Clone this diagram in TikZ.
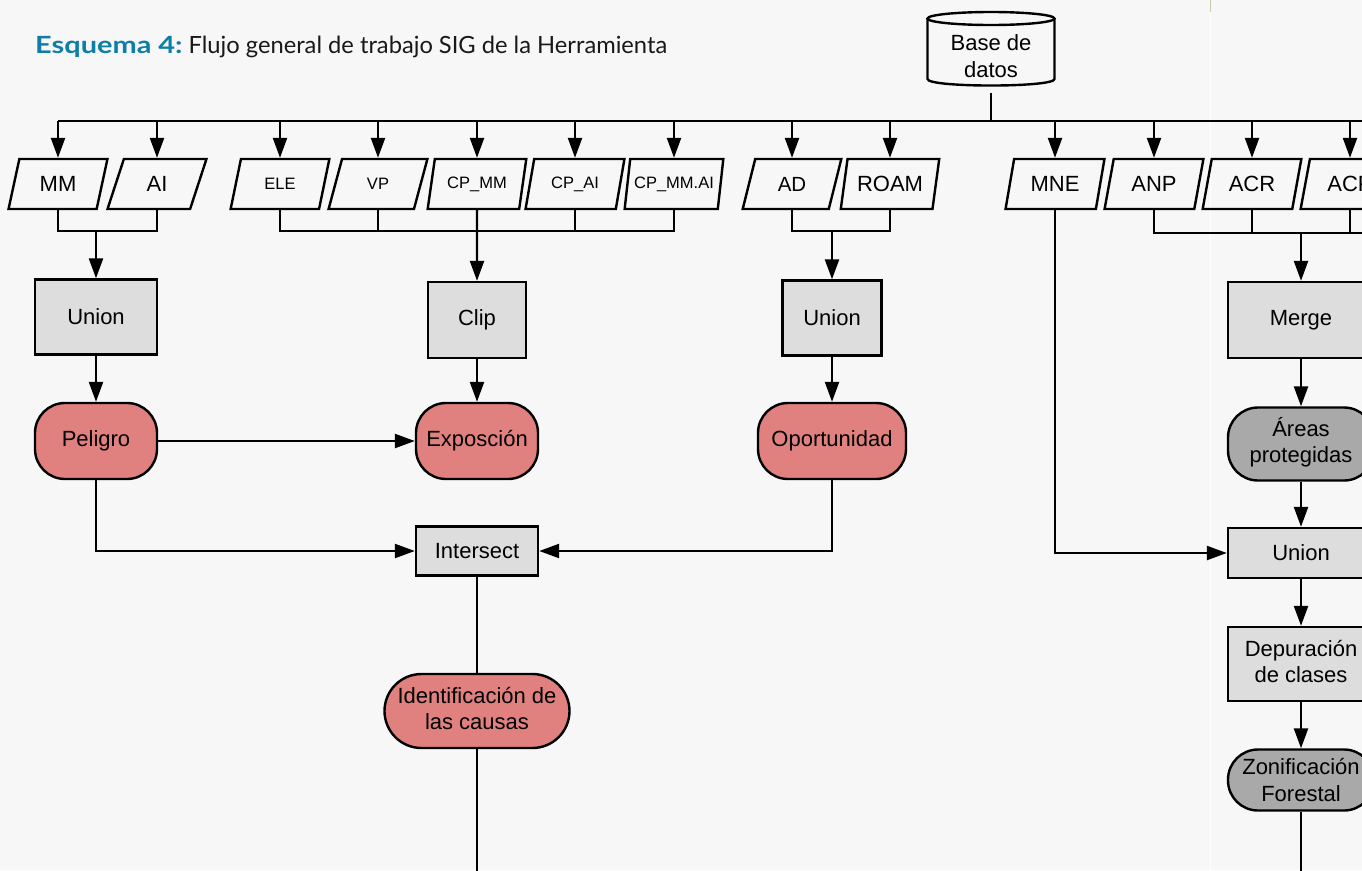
\documentclass[tikz,border=0pt]{standalone}
\usepackage{fontspec}
\setmainfont{Liberation Sans}
\newfontfamily\titlefont{Lato}
\usetikzlibrary{shapes.geometric,arrows.meta,calc}
\definecolor{bg}{HTML}{F7F7F7}
\definecolor{boxgray}{HTML}{DDDDDD}
\definecolor{redfill}{HTML}{E08180}
\definecolor{darkfill}{HTML}{A9A9A9}
\definecolor{titleblue}{HTML}{0E7EA6}
\definecolor{tick}{HTML}{C9C9AE}
\newcommand\liftlines[2]{\raisebox{#1}{\begin{tabular}{@{}c@{}}#2\end{tabular}}}
\begin{document}
\begin{tikzpicture}[x=1pt,y=-1pt,
  every node/.style={font=\fontsize{22}{26.5}\selectfont, align=center, text=black},
  mid/.style={font=\fontsize{20.5}{25}\selectfont},
  small/.style={font=\fontsize{16.5}{19}\selectfont},
  ln/.style={line width=2.4pt},
  arr/.style={ln,-{Triangle[length=20pt,width=14pt]}},
  para/.style={draw, line width=2.4pt, trapezium, trapezium left angle=75, trapezium right angle=105, trapezium stretches=true, minimum width=99pt, minimum height=50pt, inner xsep=0pt, inner ysep=2pt},
  proc/.style={draw, line width=2.4pt, fill=boxgray, rectangle},
  term/.style={draw, line width=2.4pt, fill=redfill, rounded corners=30pt},
  gterm/.style={draw, line width=2.4pt, fill=darkfill, rounded corners=30pt},
]
\useasboundingbox (0,0) rectangle (1362,870);
\fill[bg] (0,0) rectangle (1362,870);
\clip (0,0) rectangle (1362,870);
\draw[white, line width=1pt] (1210,0) -- (1210,870);
\draw[tick, line width=1pt] (1210,0) -- (1210,12);

% title
\node[anchor=base west, inner sep=0pt, font=\titlefont\fontsize{23.7}{28}\selectfont, text=black!90] (title) at (35,53)
  {\textcolor{titleblue}{\scalebox{1.22}[1]{\bfseries Esquema 4:}} Flujo general de trabajo SIG de la Herramienta};

% database
\node[minimum width=127pt, minimum height=73pt, inner sep=0pt] (db) at (991,56) {Base de\\datos};
\draw[ln] (927.5,18.5) -- (927.5,79) .. controls (927.5,87.7) and (1054.5,87.7) .. (1054.5,79) -- (1054.5,18.5);
\draw[ln] (991,18.5) ellipse [x radius=63.5, y radius=6.5];

% inputs
\node[para] (MM) at (58,184) {MM};
\node[para] (AI) at (157,184) {AI};
\node[para, small] (ELE) at (280,184) {ELE};
\node[para, small] (VP) at (378,184) {VP};
\node[para, small] (CPMM) at (477,184) {CP\_MM};
\node[para, small] (CPAI) at (575,184) {CP\_AI};
\node[para, small] (CPMMAI) at (674,184) {CP\_MM.AI};
\node[para, mid] (AD) at (792,184) {AD};
\node[para] (ROAM) at (890,184) {ROAM};
\node[para] (MNE) at (1055,184) {MNE};
\node[para] (ANP) at (1154,184) {ANP};
\node[para] (ACR) at (1252,184) {ACR};
\node[para] (ACP) at (1350,184) {ACP};

% processes and results
\node[proc, minimum width=122pt, minimum height=75pt] (U1) at (96,317) {Union};
\node[term, minimum width=122pt, minimum height=76pt] (pel) at (96,441) {Peligro};
\node[proc, minimum width=98pt, minimum height=76pt] (clip) at (477,320) {Clip};
\node[term, minimum width=122pt, minimum height=76pt, inner xsep=2pt] (exp) at (477,441) {Exposción};
\node[proc, minimum width=99pt, minimum height=75pt] (U2) at (832,318) {Union};
\node[term, minimum width=148pt, minimum height=76pt] (opo) at (832,441) {Oportunidad};
\node[proc, minimum width=122pt, minimum height=49pt] (int) at (477,551) {Intersect};
\node[term, minimum width=185pt, minimum height=74pt, rounded corners=37pt, inner sep=0pt] (idc) at (477,711) {\liftlines{3pt}{Identificación de\\las causas}};

\node[proc, minimum width=146pt, minimum height=76pt] (merge) at (1301,320) {Merge};
\node[gterm, minimum width=146pt, minimum height=73pt, inner sep=0pt] (area) at (1301,444) {\liftlines{7pt}{Áreas\\protegidas}};
\node[proc, minimum width=146pt, minimum height=50pt] (U3) at (1301,553) {Union};
\node[proc, minimum width=146pt, minimum height=74pt, inner sep=0pt] (dep) at (1301,664) {\liftlines{2pt}{Depuración\\de clases}};
\node[gterm, minimum width=146pt, minimum height=61pt, inner sep=0pt] (zon) at (1301,780) {Zonificación\\Forestal};

% bus
\coordinate (bus) at (991,121);
\coordinate (busR) at (1420,121);
\draw[ln] (db.south) -- (bus);
\draw[ln] (bus -| MM.north) -- (busR);
\foreach \n in {MM,AI,ELE,VP,CPMM,CPAI,CPMMAI,AD,ROAM,MNE,ANP,ACR,ACP}
  \draw[arr] (bus -| \n.north) -- (\n.north);

% joins
\coordinate (j1) at (96,231);
\draw[ln] (MM.south) |- (j1) -| (AI.south);
\draw[arr] (j1) -- (U1);

\coordinate (j2) at (477,231);
\draw[ln] (ELE.south) |- (j2) -| (CPMMAI.south);
\draw[ln] (VP.south) -- (VP.south |- j2);
\draw[ln] (CPAI.south) -- (CPAI.south |- j2);
\draw[arr] (CPMM.south) -- (clip);

\coordinate (j3) at (832,231);
\draw[ln] (AD.south) |- (j3) -| (ROAM.south);
\draw[arr] (j3) -- (U2);

\coordinate (j4) at (1301,233);
\coordinate (j4R) at (1420,233);
\draw[ln] (ANP.south) |- (j4) -- (j4R);
\draw[ln] (ACR.south) -- (ACR.south |- j4);
\draw[ln] (ACP.south) -- (ACP.south |- j4);
\draw[arr] (j4) -- (merge);

% flows
\draw[arr] (U1) -- (pel);
\draw[arr] (clip) -- (exp);
\draw[arr] (U2) -- (opo);
\draw[arr] (pel) -- (exp);
\draw[arr] (pel.south) |- (int.west);
\draw[arr] (opo.south) |- (int.east);
\draw[ln] (int) -- (idc);
\coordinate (bottom) at (0,880);
\draw[ln] (idc.south) -- (idc.south |- bottom);

\draw[arr] (merge) -- (area);
\draw[arr] (area) -- (U3);
\draw[arr] (U3) -- (dep);
\draw[arr] (dep) -- (zon);
\draw[ln] (zon.south) -- (zon.south |- bottom);
\draw[arr] (MNE.south) |- (U3.west);
\end{tikzpicture}
\end{document}
